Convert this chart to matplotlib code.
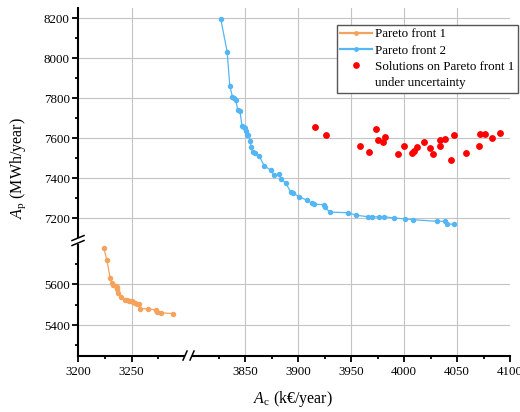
import numpy as np
import matplotlib
matplotlib.use('Agg')
import matplotlib.pyplot as plt
from matplotlib.lines import Line2D

plt.rcParams['font.family'] = 'Liberation Serif'
plt.rcParams['mathtext.fontset'] = 'custom'
plt.rcParams['mathtext.rm'] = 'Liberation Serif'
plt.rcParams['mathtext.it'] = 'Liberation Serif:italic'

# Pareto front 1 (deterministic)
x1 = [3224, 3227, 3230, 3232, 3233, 3235, 3236, 3236.5, 3237, 3240, 3244, 3246, 3248,
      3250, 3251.5, 3253.5, 3255, 3256.5, 3257.5, 3265, 3272.5, 3274, 3277.5, 3289]
y1 = [5777, 5718, 5629, 5608, 5598, 5592, 5585, 5578, 5559, 5536, 5523, 5521, 5519,
      5516, 5512, 5507, 5502, 5503, 5480, 5480, 5474, 5466, 5460, 5456]

# Pareto front 2
x2 = [3827, 3833, 3835.5, 3838, 3839.5, 3841, 3843, 3845, 3847, 3849, 3850, 3850.5, 3852,
      3853, 3855, 3855.5, 3857, 3859, 3863, 3868, 3874, 3877, 3882, 3884, 3888.5, 3893,
      3895, 3901, 3908, 3913, 3915, 3924, 3925, 3930, 3947, 3955, 3966, 3970, 3976, 3981,
      3990, 4001, 4008, 4031, 4038.5, 4040, 4047]
y2 = [8193, 8031, 7860, 7806, 7800, 7790, 7743, 7738, 7660, 7658, 7652, 7637, 7616,
      7614, 7587, 7557, 7530, 7525, 7513, 7462, 7441, 7417, 7419, 7396, 7374, 7330,
      7325, 7308, 7291, 7275, 7271, 7268, 7255, 7231, 7228, 7215, 7208, 7208, 7207, 7208,
      7202, 7197, 7193, 7185, 7185, 7172, 7170]

# solutions under uncertainty
x3 = [3915.5, 3926, 3958, 3967, 3973, 3975, 3980, 3981.5, 3994, 4000, 4007, 4009.5, 4012.5,
      4019, 4024.5, 4027, 4033.5, 4033.5, 4039, 4044.5, 4047, 4058, 4071, 4071.5, 4076,
      4083, 4090]
y3 = [7654, 7617, 7562, 7532, 7647, 7590, 7580, 7607, 7520, 7562, 7526, 7536, 7557,
      7580, 7550, 7520, 7562, 7589, 7594, 7489, 7615, 7524, 7560, 7619, 7619, 7602, 7624]

xticks_l = [3200, 3250]
xminor_l = [3225, 3275]
xticks_r = [3850, 3900, 3950, 4000, 4050, 4100]
xminor_r = [3825, 3875, 3925, 3975, 4025, 4075]
yticks_t = [7200, 7400, 7600, 7800, 8000, 8200]
yminor_t = [7300, 7500, 7700, 7900, 8100]
yticks_b = [5400, 5600]
yminor_b = [5300, 5500, 5700]

orange = '#f5a25d'
blue = '#55b6f5'
gridc = '#c4c4c4'

fig = plt.figure(figsize=(5.2, 4.12), dpi=100)
gs = fig.add_gridspec(2, 2, left=0.15, right=0.981, bottom=0.137, top=0.9806,
                      width_ratios=[111, 321], height_ratios=[232.5, 115],
                      hspace=0, wspace=0)
ax_tl = fig.add_subplot(gs[0, 0])
ax_tr = fig.add_subplot(gs[0, 1])
ax_bl = fig.add_subplot(gs[1, 0])
ax_br = fig.add_subplot(gs[1, 1])

xl = {0: (3200, 3303.5), 1: (3797, 4100)}
yl = {0: (7089, 8250), 1: (5250, 5815)}
xt = {0: (xticks_l, xminor_l), 1: (xticks_r, xminor_r)}
yt = {0: (yticks_t, yminor_t), 1: (yticks_b, yminor_b)}

for (r, c), ax in {(0, 0): ax_tl, (0, 1): ax_tr, (1, 0): ax_bl, (1, 1): ax_br}.items():
    ax.set_xlim(*xl[c])
    ax.set_ylim(*yl[r])
    for s in ax.spines.values():
        s.set_visible(False)
    # grid
    for v in xt[c][0]:
        if xl[c][0] < v < xl[c][1]:
            ax.axvline(v, color=gridc, lw=0.8, zorder=0)
    for v in yt[r][0]:
        if yl[r][0] < v < yl[r][1]:
            ax.axhline(v, color=gridc, lw=0.8, zorder=0)
    ax.set_xticks(xt[c][0])
    ax.set_xticks(xt[c][1], minor=True)
    ax.set_yticks(yt[r][0])
    ax.set_yticks(yt[r][1], minor=True)
    ax.tick_params(which='both', direction='out', width=1.3, labelsize=9.3, colors='black')
    ax.tick_params(which='major', length=4)
    ax.tick_params(which='minor', length=2.5)
    ax.tick_params(axis='x', pad=3.5)
    ax.tick_params(axis='y', pad=2)
    if r == 0:
        ax.tick_params(axis='x', which='both', bottom=False, labelbottom=False)
    else:
        ax.spines['bottom'].set_visible(True)
        ax.spines['bottom'].set_linewidth(1.5)
    if c == 1:
        ax.tick_params(axis='y', which='both', left=False, labelleft=False)
    else:
        ax.spines['left'].set_visible(True)
        ax.spines['left'].set_linewidth(1.5)

ax_bl.plot(x1, y1, color=orange, lw=0.9, marker='o', ms=2.9, mec=orange, mfc=orange, zorder=3)
ax_tr.plot(x2, y2, color=blue, lw=0.9, marker='o', ms=2.9, mec=blue, mfc=blue, zorder=3)
ax_tr.plot(x3, y3, ls='none', marker='o', ms=3.9, color='red', zorder=4)

# break marks
W, H = fig.get_size_inches() * fig.dpi


def brk_line(x0, y0, pts, **kw):
    fig.add_artist(Line2D([x0 + p[0] / W for p in pts], [y0 + p[1] / H for p in pts],
                          transform=fig.transFigure, **kw))


pos = ax_bl.get_position()
# y-axis break
brk_line(pos.x0, pos.y1, [(0, -3), (0, 3)], color='white', lw=3, solid_capstyle='butt')
brk_line(pos.x0, pos.y1, [(-6, 0), (6, 5)], color='black', lw=1.1)
brk_line(pos.x0, pos.y1, [(-6, -5), (6, 0)], color='black', lw=1.1)
# x-axis break
brk_line(pos.x1, pos.y0, [(-4, 0), (3, 0)], color='white', lw=3, solid_capstyle='butt')
brk_line(pos.x1, pos.y0, [(-6, -4.5), (-2, 4.5)], color='black', lw=1.1)
brk_line(pos.x1, pos.y0, [(1, -4.5), (5, 4.5)], color='black', lw=1.1)

fig.text(0.035, 0.593, r'$A_{\mathrm{p}}$ (MWh/year)', rotation=90, ha='center', va='center', fontsize=11.5)
fig.text(0.5635, 0.032, r'$A_{\mathrm{c}}$ (k€/year)', ha='center', va='center', fontsize=11.5)

handles = [Line2D([], [], color=orange, lw=1.6, marker='o', ms=2.5),
           Line2D([], [], color=blue, lw=1.6, marker='o', ms=2.5),
           Line2D([], [], ls='none', marker='o', ms=3.8, color='red'),
           Line2D([], [], ls='none')]
labels = ['Pareto front 1', 'Pareto front 2', 'Solutions on Pareto front 1', 'under uncertainty']
fig.legend(handles, labels, loc='upper right', bbox_to_anchor=(518 / 520, 1 - 25 / 412),
           fontsize=9.4, frameon=True, fancybox=False, edgecolor='#555555', framealpha=1,
           borderaxespad=0, handlelength=2.4, handletextpad=0.3, labelspacing=0.32,
           borderpad=0.25)

fig.savefig('out.png', dpi=100)
